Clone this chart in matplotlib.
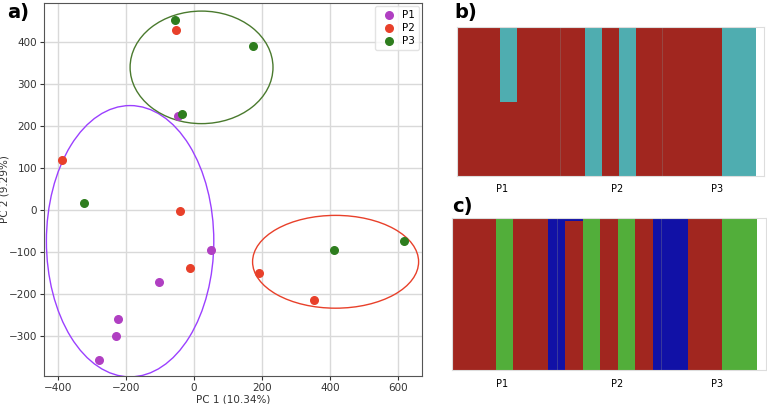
import matplotlib.pyplot as plt
from matplotlib.patches import Ellipse
import numpy as np

# PCA scores (panel a)
p1_x = [-48, 50, -102, -224, -228, -280]
p1_y = [223, -94, -172, -260, -299, -356]
p2_x = [-52, -387, -42, -11, 190, 354]
p2_y = [429, 120, -2, -137, -150, -215]
p3_x = [-57, 172, -35, -323, 411, 618]
p3_y = [453, 392, 229, 17, -95, -74]

# confidence ellipses: centre x, centre y, width, height
ell_p1 = (-188, -74, 492, 646)
ell_p2 = (416, -123, 488, 221)
ell_p3 = (22, 340, 420, 268)

# structure plots, K=2 (panel b): membership of each individual
k2_red = [1]*5 + [0.494]*2 + [1]*8 + [0]*2 + [1]*2 + [0]*2 + [1]*10 + [0]*4
k2_cyan = [1 - v for v in k2_red]

# K=3 (panel c)
k3_red = [1]*5 + [0]*2 + [1]*4 + [0]*2 + [0.985]*2 + [0]*2 + [1]*2 + [0]*2 + [1]*2 + [0]*4 + [1]*4 + [0]*4
k3_green = [0]*5 + [1]*2 + [0]*4 + [0]*2 + [0]*2 + [1]*2 + [0]*2 + [1]*2 + [0]*2 + [0]*4 + [0]*4 + [1]*4
k3_blue = [1 - r - g for r, g in zip(k3_red, k3_green)]

pop_labels = ['P1', 'P2', 'P3']
b_label_pos = [5.3, 18.8, 30.5]
c_label_pos = [5.7, 18.9, 30.4]
pop_breaks = [12, 24]

c_purple = '#b03fc2'
c_red = '#e8402a'
c_green = '#2e7d1e'
bar_red = '#a1261f'
bar_cyan = '#4fadb0'
bar_green = '#52ae3a'
bar_blue = '#1111a6'

fig = plt.figure(figsize=(7.67, 4.04), dpi=100)

ax = fig.add_axes([0.0574, 0.0693, 0.4928, 0.923])
ax.grid(True, color='#d9d9d9', linewidth=1)
ax.set_axisbelow(True)
ax.scatter(p1_x, p1_y, s=30, color=c_purple, label='P1', zorder=3)
ax.scatter(p2_x, p2_y, s=30, color=c_red, label='P2', zorder=3)
ax.scatter(p3_x, p3_y, s=30, color=c_green, label='P3', zorder=3)
for (cx, cy, w, h), col in [(ell_p1, '#9b40ff'), (ell_p2, '#e8402a'), (ell_p3, '#4a7a2e')]:
    ax.add_patch(Ellipse((cx, cy), w, h, fill=False, edgecolor=col, linewidth=1))
ax.set_xlim(-441, 670)
ax.set_ylim(-395, 493)
ax.set_xticks([-400, -200, 0, 200, 400, 600])
ax.set_yticks([-300, -200, -100, 0, 100, 200, 300, 400])
ax.tick_params(labelsize=7.5, colors='#333333', length=3, pad=2)
for s in ax.spines.values():
    s.set_color('#555555')
ax.set_xlabel('PC 1 (10.34%)', fontsize=7.5, color='#333333', labelpad=1)
ax.set_ylabel('PC 2 (9.29%)', fontsize=7.5, color='#333333')
ax.yaxis.set_label_coords(-0.092, 0.5)
ax.legend(loc='upper right', fontsize=7.5, handletextpad=0.3, borderpad=0.35,
          borderaxespad=0.3, labelspacing=0.3, handlelength=2.0,
          framealpha=0.8, edgecolor='#dddddd')
fig.text(0.009, 0.968, 'a)', fontsize=14, fontweight='bold', va='center')


def structure(axs, layers, colors, label_pos):
    idx = np.arange(len(layers[0]))
    bottom = np.zeros(len(idx))
    for vals, col in zip(layers, colors):
        axs.bar(idx, vals, width=1.0, bottom=bottom, align='edge', color=col, linewidth=0)
        bottom += np.array(vals)
    for b in pop_breaks:
        axs.axvline(b, color='#888888', linewidth=0.4, alpha=0.6)
    axs.set_xlim(0, 36)
    axs.set_ylim(0, 1)
    axs.set_yticks([])
    axs.set_xticks(label_pos)
    axs.set_xticklabels(pop_labels, fontsize=7)
    axs.tick_params(axis='x', length=0, pad=6)
    for s in axs.spines.values():
        s.set_color('#dddddd')
        s.set_linewidth(0.8)


axb = fig.add_axes([0.5962, 0.5644, 0.4003, 0.3688])
structure(axb, [k2_red, k2_cyan], [bar_red, bar_cyan], b_label_pos)
fig.text(0.593, 0.968, 'b)', fontsize=14, fontweight='bold', va='center')

axc = fig.add_axes([0.5893, 0.0834, 0.4094, 0.376])
structure(axc, [k3_red, k3_green, k3_blue], [bar_red, bar_green, bar_blue], c_label_pos)
fig.text(0.590, 0.49, 'c)', fontsize=14, fontweight='bold', va='center')

fig.savefig('out.png', dpi=100)
